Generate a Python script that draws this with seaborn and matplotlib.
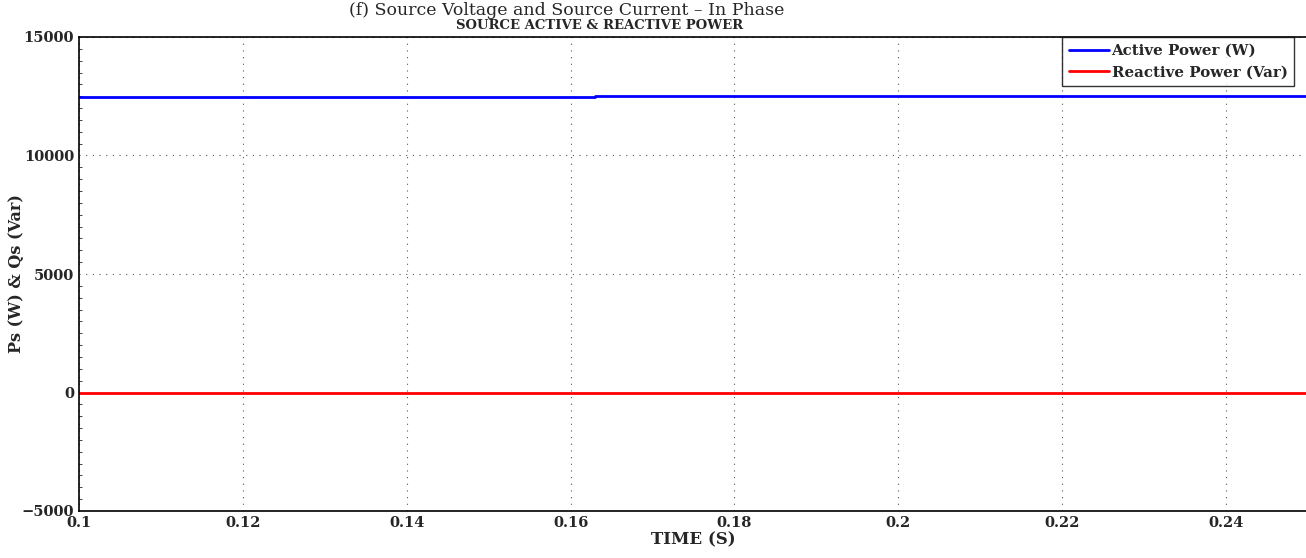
import numpy as np
import pandas as pd
import seaborn as sns
import matplotlib.pyplot as plt
from matplotlib.ticker import MultipleLocator

# data
time_s = [0.1, 0.163, 0.163, 0.25]
active_w = [12450, 12450, 12495, 12495]
reactive_var = [0, 0, 0, 0]
xticks = [0.1, 0.12, 0.14, 0.16, 0.18, 0.2, 0.22, 0.24]
xticklabels = ["0.1", "0.12", "0.14", "0.16", "0.18", "0.2", "0.22", "0.24"]
yticks = [-5000, 0, 5000, 10000, 15000]

sns.set_style("white")
plt.rcParams['font.family'] = ['DejaVu Serif']

fig = plt.figure(figsize=(13.06, 5.58), dpi=100)
ax = fig.add_axes([79/1306, 1 - 511/558, (1308 - 79)/1306, (511 - 37)/558])

df = pd.DataFrame({"t": time_s * 2,
                   "v": active_w + reactive_var,
                   "s": ["Active Power (W)"] * 4 + ["Reactive Power (Var)"] * 4})
sns.lineplot(data=df, x="t", y="v", hue="s", palette=["#0000ff", "#ff0000"],
             linewidth=2, ax=ax, sort=False, estimator=None)

ax.set_xlim(0.1, 0.25)
ax.set_ylim(-5000, 15000)
ax.set_xticks(xticks)
ax.set_xticklabels(xticklabels)
ax.set_yticks(yticks)
ax.yaxis.set_minor_locator(MultipleLocator(500))
ax.tick_params(axis='both', which='major', direction='in', length=6, labelsize=10.5)
ax.tick_params(axis='y', which='minor', direction='in', length=2, left=True)
for lab in ax.get_xticklabels() + ax.get_yticklabels():
    lab.set_fontweight('bold')
ax.grid(True, linestyle=(0, (1, 5)), color='#555555', linewidth=0.8)
for sp in ax.spines.values():
    sp.set_color('black')
    sp.set_linewidth(1.2)

ax.set_xlabel("TIME (S)", fontsize=12, fontweight='bold', labelpad=1)
ax.set_ylabel("Ps (W) & Qs (Var)", fontsize=11.5, fontweight='bold', labelpad=6)
ax.yaxis.set_label_coords(-54/1229, 0.5)

leg = ax.legend(loc='upper left', bbox_to_anchor=((1062 - 79) / (1308 - 79), 1.0),
                fontsize=10.8, frameon=True, fancybox=False, borderaxespad=0,
                handlelength=2.7, handletextpad=0.15, labelspacing=0.5,
                borderpad=0.45)
leg.get_frame().set_edgecolor('black')
leg.get_frame().set_linewidth(1.0)
for t in leg.get_texts():
    t.set_fontweight('bold')

fig.text(600/1306, 1 - 29/558, "SOURCE ACTIVE & REACTIVE POWER", ha='center',
         va='baseline', fontsize=9.5, fontweight='bold')
fig.text(567/1306, 1 - 15/558, "(f) Source Voltage and Source Current \u2013 In Phase",
         ha='center', va='baseline', fontsize=12.5)

fig.savefig("out.png", dpi=100)
